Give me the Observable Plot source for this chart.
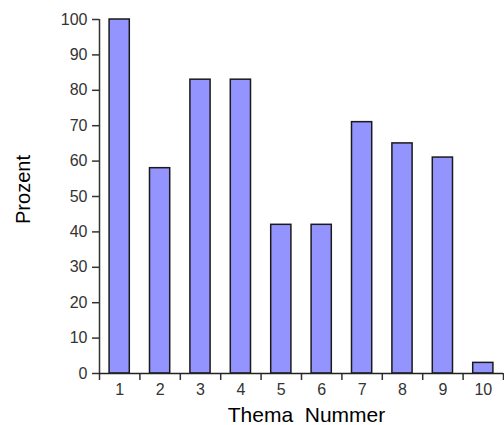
<!DOCTYPE html>
<html>
<head>
<meta charset="utf-8">
<script src="https://cdn.jsdelivr.net/npm/d3@7"></script>
<script src="https://cdn.jsdelivr.net/npm/@observablehq/plot@0.6"></script>
<style>
  html, body { margin: 0; padding: 0; background: #fff; }
</style>
</head>
<body>
<div id="chart"></div>
<script>
const themen = [1, 2, 3, 4, 5, 6, 7, 8, 9, 10];
const prozent = [100, 58, 83, 83, 42, 42, 71, 65, 61, 3];
const yTicks = [0, 10, 20, 30, 40, 50, 60, 70, 80, 90, 100];
const xTitle = "Thema  Nummer";
const yTitle = "Prozent";

const data = themen.map((t, i) => ({thema: t, pct: prozent[i]}));
const boundaries = [...themen.map(t => t - 0.5), themen[themen.length - 1] + 0.5];

const chart = Plot.plot({
  width: 504,
  height: 425,
  marginLeft: 99,
  marginRight: 1,
  marginTop: 19,
  marginBottom: 52,
  style: {fontFamily: "'Liberation Sans', Arial, sans-serif", color: "#222", background: "#fff"},
  x: {type: "linear", domain: [boundaries[0], boundaries[boundaries.length - 1]]},
  y: {domain: [0, 100]},
  marks: [
    Plot.rectY(data, {
      x1: d => d.thema - 0.25,
      x2: d => d.thema + 0.25,
      y1: 0,
      y2: "pct",
      fill: "#9494ff",
      stroke: "#1a1a1a",
      strokeWidth: 1.5
    }),
    Plot.axisY(yTicks, {
      tickSize: 7, tickPadding: 5, fontSize: 16, label: null,
      stroke: "#333", strokeWidth: 1.5, fill: "#333",
      style: {letterSpacing: "1.5px"}
    }),
    Plot.axisX(themen, {
      tickSize: 0, tickPadding: 10, fontSize: 16, label: null, fill: "#333",
      style: {letterSpacing: "1px"}
    }),
    Plot.axisX(boundaries, {
      tickSize: 7, tickFormat: () => "", label: null, stroke: "#333", strokeWidth: 1.5
    }),
    Plot.ruleX([boundaries[0]], {stroke: "#333", strokeWidth: 1.5}),
    Plot.ruleY([0], {stroke: "#222", strokeWidth: 1.5}),
    Plot.text([yTitle], {
      frameAnchor: "left", textAnchor: "middle", rotate: -90, dx: -76, dy: -7,
      fontSize: 20, fill: "#000", style: {letterSpacing: "2px"}
    }),
    Plot.text([xTitle], {
      frameAnchor: "bottom", lineAnchor: "bottom", dy: 48, dx: 5,
      fontSize: 21, fill: "#000", style: {letterSpacing: "0.8px"}
    })
  ]
});
document.getElementById("chart").appendChild(chart);
</script>
</body>
</html>
